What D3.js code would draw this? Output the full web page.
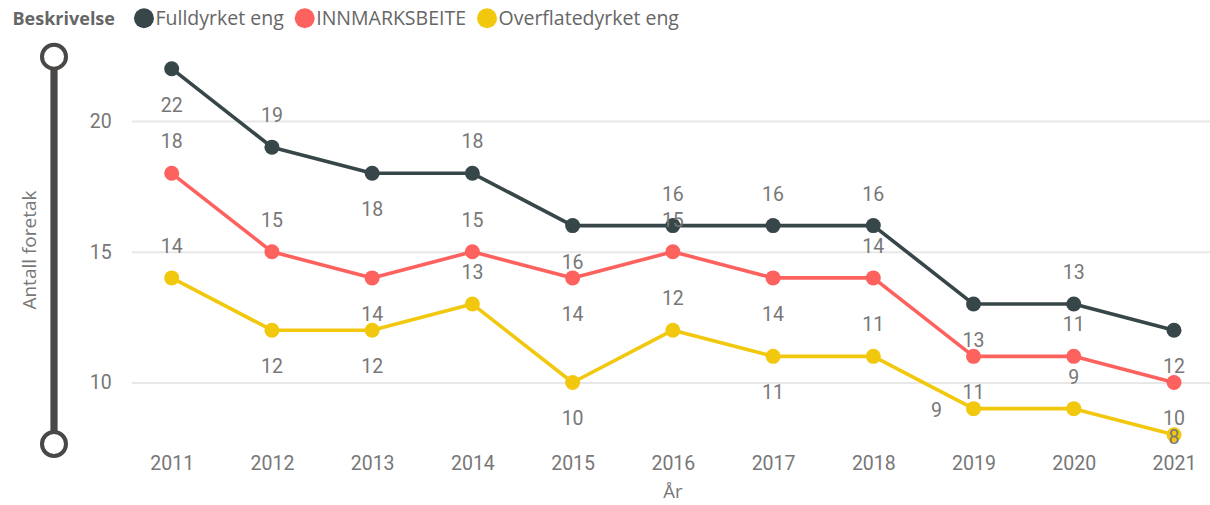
<!DOCTYPE html>
<html><head><meta charset="utf-8">
<script src="https://cdn.jsdelivr.net/npm/d3@7"></script>
<style>body{margin:0;background:#fff} svg{display:block}</style>
</head><body>
<svg id="chart" width="1210" height="505"></svg>
<script>
// ---- data ----
const years = ["2011","2012","2013","2014","2015","2016","2017","2018","2019","2020","2021"];
const legendTitle = "Beskrivelse";
const seriesNames = ["Fulldyrket eng","INNMARKSBEITE","Overflatedyrket eng"];
const fulldyrket      = [22,19,18,18,16,16,16,16,13,13,12];
const innmarksbeite   = [18,15,14,15,14,15,14,14,11,11,10];
const overflatedyrket = [14,12,12,13,10,12,11,11, 9, 9, 8];
const yTicks = [10,15,20];
// data label placement per point: a = above, b = below, l = left, c = centre
const fulldyrketLabelPos      = ["b","a","b","a","b","a","a","a","b","a","b"];
const innmarksbeiteLabelPos   = ["a","a","b","a","b","a","b","a","b","a","b"];
const overflatedyrketLabelPos = ["a","b","b","a","b","a","b","a","l","a","c"];
const yTitle = "Antall foretak";
const xTitle = "År";

const colors = ["#374649","#FD625E","#F2C80F"];
const seriesValues = [fulldyrket, innmarksbeite, overflatedyrket];
const seriesLabelPos = [fulldyrketLabelPos, innmarksbeiteLabelPos, overflatedyrketLabelPos];
const series = seriesNames.map((name,i)=>({
  name, color: colors[i],
  points: years.map((yr,j)=>({year: yr, value: seriesValues[i][j], pos: seriesLabelPos[i][j]}))
}));

const svg = d3.select("#chart");
const W = 1210;
const labelFont = "Roboto, 'DejaVu Sans Condensed', sans-serif";
const uiFont = "'Segoe UI', 'Open Sans', sans-serif";
const grey = "#777";

const x = d3.scalePoint().domain(years).range([171.7, 1174]);
const y = d3.scaleLinear().domain([10,20]).range([382.5, 121]);

// gridlines + y tick labels
const gridLeft = 131.7;
const yAxis = svg.append("g").attr("transform", `translate(${gridLeft},0)`)
  .call(d3.axisLeft(y).tickValues(yTicks).tickSize(-(W-gridLeft)).tickPadding(20).tickFormat(d3.format("d")));
yAxis.select(".domain").remove();
yAxis.selectAll(".tick line").attr("stroke","#e8e8e8").attr("stroke-width",2);
yAxis.selectAll(".tick text").attr("fill",grey).style("font-family",labelFont).style("font-size","19.5px");

// x axis
const xAxis = svg.append("g").attr("transform","translate(0,448)")
  .call(d3.axisBottom(x).tickSize(0).tickPadding(8.4));
xAxis.select(".domain").remove();
xAxis.selectAll(".tick text").attr("fill",grey).style("font-family",labelFont).style("font-size","19.5px");

// axis titles
svg.append("text").attr("x",673).attr("y",498).attr("text-anchor","middle")
  .attr("fill",grey).style("font-family",uiFont).style("font-size","18.5px").text(xTitle);
svg.append("text").attr("transform","translate(36,250) rotate(-90)").attr("text-anchor","middle")
  .attr("fill",grey).style("font-family",uiFont).style("font-size","19px").text(yTitle);

// zoom slider
const sliderColor = "#4a4846";
const sTop = 56.7, sBot = 444, sX = 54;
svg.append("rect").attr("x",sX-3.6).attr("y",sTop).attr("width",7.2).attr("height",sBot-sTop).attr("fill",sliderColor);
[sTop,sBot].forEach(cy=>svg.append("circle").attr("cx",sX).attr("cy",cy).attr("r",12)
  .attr("fill","#fff").attr("stroke",sliderColor).attr("stroke-width",4));

// lines
const line = d3.line().x(d=>x(d.year)).y(d=>y(d.value));
const gS = svg.append("g");
series.forEach(s=>{
  gS.append("path").datum(s.points).attr("d",line).attr("fill","none")
    .attr("stroke",s.color).attr("stroke-width",3.6).attr("stroke-linejoin","round");
});
series.forEach(s=>{
  gS.selectAll(null).data(s.points).join("circle")
    .attr("cx",d=>x(d.year)).attr("cy",d=>y(d.value)).attr("r",7.5).attr("fill",s.color);
});
// data labels
const gL = svg.append("g");
series.forEach(s=>{
  gL.selectAll(null).data(s.points).join("text")
    .attr("x",d=>x(d.year) + (d.pos==="l" ? -37 : 0))
    .attr("y",d=>y(d.value) + (d.pos==="a" ? -32 : d.pos==="b" ? 36 : d.pos==="c" ? 2 : 1))
    .attr("dy","0.355em").attr("text-anchor","middle")
    .attr("fill",grey).style("font-family",labelFont).style("font-size","19.5px")
    .text(d=>d.value);
});

// legend
const lg = svg.append("g");
const lgY = 18.3;
const title = lg.append("text").attr("x",12.5).attr("y",lgY).attr("dy","0.35em")
  .attr("fill","#666").style("font-family",uiFont).style("font-size","18px").style("font-weight","bold").text(legendTitle);
let cx = 12.5 + title.node().getComputedTextLength() + 19;
series.forEach(s=>{
  lg.append("circle").attr("cx",cx+10).attr("cy",lgY).attr("r",10).attr("fill",s.color);
  const t = lg.append("text").attr("x",cx+21.5).attr("y",lgY).attr("dy","0.35em")
    .attr("fill","#666").style("font-family",uiFont).style("font-size","19.5px").text(s.name);
  cx = cx + 21.5 + t.node().getComputedTextLength() + 11;
});
</script>
</body></html>
